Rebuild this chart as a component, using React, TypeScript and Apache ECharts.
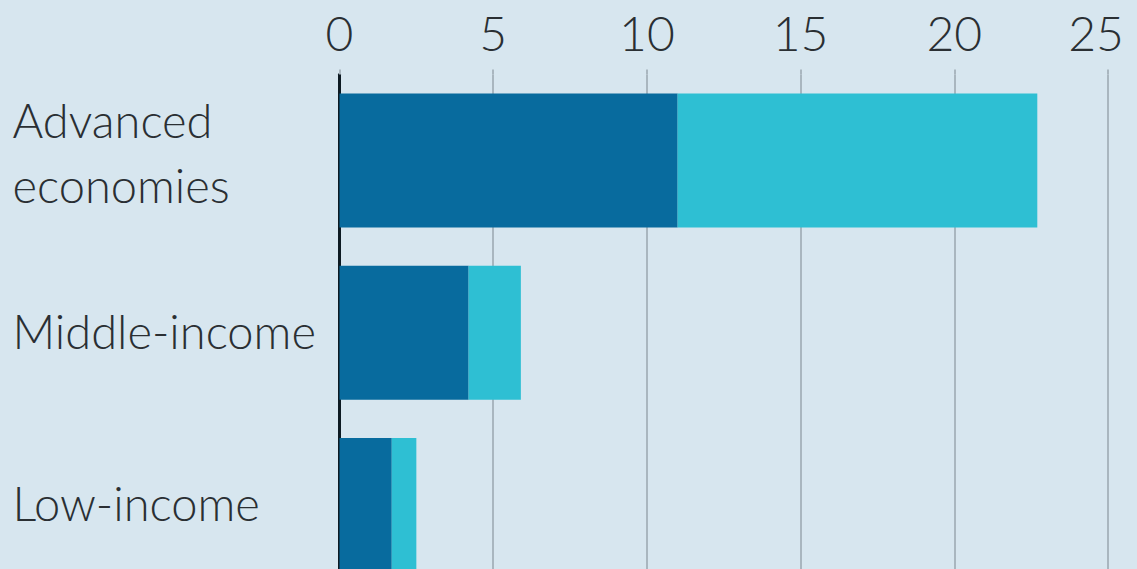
import React, { useEffect, useRef } from "react";
import * as echarts from "echarts";

const categories = ["Advanced\neconomies", "Middle-income", "Low-income"];
const darkValues = [11.0, 4.2, 1.7];
const lightValues = [11.7, 1.7, 0.8];
const xTicks = [0, 5, 10, 15, 20, 25];

export default function App() {
  const ref = useRef<HTMLDivElement>(null);
  useEffect(() => {
    if (!ref.current) return;
    document.body.style.overflow = "hidden";
    const chart = echarts.init(ref.current, undefined, { renderer: "svg" });
    const font = "Lato";
    const tickText = {
      fontFamily: font,
      fontWeight: 300,
      fontSize: 48,
      color: "#2a2f33",
    };
    const maxTick = xTicks[xTicks.length - 1];
    chart.setOption({
      animation: false,
      backgroundColor: "#d7e6ef",
      grid: {
        left: 339.5,
        right: 29,
        top: 74.5,
        bottom: 9,
        containLabel: false,
        outerBoundsMode: "none",
      },
      xAxis: {
        type: "value",
        position: "top",
        min: xTicks[0],
        max: maxTick,
        interval: 5,
        axisLine: { show: false },
        axisTick: { show: true, length: 5, lineStyle: { color: "#a9b6bf", width: 2 } },
        splitLine: { show: true, lineStyle: { color: "#a9b6bf", width: 2 } },
        axisLabel: {
          show: true,
          margin: 18,
          ...tickText,
          formatter: (v: number) => (v === maxTick ? `{e|${v}}` : `{n|${v}}`),
          rich: {
            n: { ...tickText },
            e: { ...tickText, padding: [0, 24, 0, 0] },
          },
        },
      },
      yAxis: {
        type: "category",
        inverse: true,
        data: categories,
        axisLine: { show: true, lineStyle: { color: "#0d1a22", width: 3 } },
        axisTick: { show: false },
        splitLine: { show: false },
        axisLabel: {
          show: true,
          margin: 327,
          align: "left",
          formatter: (v: string) => {
            const lines = v.split("\n").map((l) => `{a|${l}}`);
            return lines.length > 1 ? lines.join("\n") + "\n{s|}" : lines[0] + "\n{t|}";
          },
          rich: {
            a: {
              fontFamily: font,
              fontWeight: 300,
              fontSize: 47,
              lineHeight: 65,
              color: "#2a2f33",
              align: "left",
            },
            s: { fontSize: 1, lineHeight: 16 },
            t: { fontSize: 1, lineHeight: 4 },
          },
        },
      },
      series: [
        {
          type: "bar",
          stack: "total",
          data: darkValues,
          barWidth: 134,
          itemStyle: { color: "#086b9e" },
          z: 1,
        },
        {
          type: "bar",
          stack: "total",
          data: lightValues,
          barWidth: 134,
          itemStyle: { color: "#2ebfd3" },
          z: 1,
        },
      ],
    });
    return () => chart.dispose();
  }, []);
  return (
    <div
      ref={ref}
      style={{ position: "fixed", left: 0, top: 0, width: 1137, height: 600 }}
    />
  );
}
